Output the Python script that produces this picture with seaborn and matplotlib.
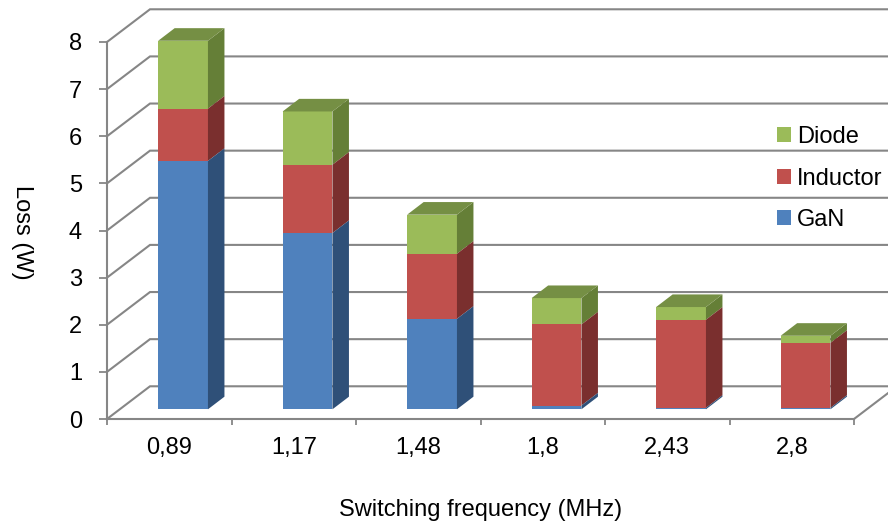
# -*- coding: utf-8 -*-

import pandas as pd
import matplotlib
matplotlib.use("Agg")
import matplotlib.pyplot as plt
import seaborn as sns

freqs = ['0,89', '1,17', '1,48', '1,8', '2,43', '2,8']
gan = [5.27, 3.74, 1.92, 0.08, 0.03, 0.03]
inductor = [1.11, 1.45, 1.38, 1.72, 1.87, 1.38]
diode = [1.44, 1.13, 0.83, 0.56, 0.27, 0.15]

sns.set_theme(style="white")
plt.rcParams['font.family'] = ['Liberation Sans', 'DejaVu Sans']

W, H = 888, 523
fig = plt.figure(figsize=(W / 100, H / 100), dpi=100)
ax = fig.add_axes([107 / W, 1 - 419 / H, 747 / W, 377 / H])

df = pd.DataFrame({'freq': freqs, 'GaN': gan, 'Inductor': inductor, 'Diode': diode})
df['c_gan'] = df['GaN']
df['c_ind'] = df['c_gan'] + df['Inductor']
df['c_dio'] = df['c_ind'] + df['Diode']

grey = '#868686'
fs = 17

# fake 3d: offsets in data units (1 category = 124.5px, 1 unit = 47.1px)
wall_dx, wall_dy = 43 / 124.5, 32.7 / 47.1
bar_dx, bar_dy = 13.8 / 124.5, 9.7 / 47.1
depth_dx, depth_dy = 16.5 / 124.5, 12.6 / 47.1

# draw tallest stack first so the lower segments sit on top
layers = [('Diode', 'c_dio', '#9BBB59', '#657F37'),
          ('Inductor', 'c_ind', '#C0504D', '#7A2F2E'),
          ('GaN', 'c_gan', '#4F81BD', '#2F5078')]
for name, col, face, side in layers:
    n_before = len(ax.patches)
    sns.barplot(data=df, x='freq', y=col, color=face, saturation=1, width=0.4,
                label=name, ax=ax, zorder=3, linewidth=0, clip_on=False)
    bars = ax.patches[n_before:]
    lows = {'Diode': df['c_ind'], 'Inductor': df['c_gan'], 'GaN': 0 * df['c_gan']}[name]
    for bar, low in zip(bars, lows):
        bar.set_x(bar.get_x() + bar_dx)
        bar.set_y(bar.get_y() + bar_dy)
        x1 = bar.get_x() + bar.get_width()
        y0, y1 = low + bar_dy, bar.get_y() + bar.get_height()
        ax.fill([x1, x1 + depth_dx, x1 + depth_dx, x1],
                [y0, y0 + depth_dy, y1 + depth_dy, y1],
                color=side, lw=0, zorder=3, clip_on=False)

# top of the stacks
for bar in ax.patches[:len(freqs)]:
    x0, x1 = bar.get_x(), bar.get_x() + bar.get_width()
    y1 = bar.get_y() + bar.get_height()
    ax.fill([x0, x1, x1 + depth_dx, x0 + depth_dx],
            [y1, y1, y1 + depth_dy, y1 + depth_dy],
            color='#758F44', lw=0, zorder=3, clip_on=False)

ax.set_xlim(-0.5, 5.5)
ax.set_ylim(0, 8)

# walls
for v in range(9):
    ax.plot([-0.5, -0.5 + wall_dx, 5.5 + wall_dx], [v, v + wall_dy, v + wall_dy],
            color=grey, lw=1.5, zorder=1, clip_on=False, solid_joinstyle='miter')
ax.plot([5.5, 5.5 + wall_dx], [0, wall_dy], color=grey, lw=1.5, zorder=1, clip_on=False)

sns.despine(ax=ax)
for s in ['left', 'bottom']:
    ax.spines[s].set_color(grey)
    ax.spines[s].set_linewidth(1.5)

ax.set_yticks(range(9))
ax.tick_params(axis='y', length=6, width=1.3, color=grey, pad=12, labelsize=fs,
               labelcolor='black', left=True)
ax.set_xticks([i - 0.5 for i in range(7)])
ax.set_xticklabels([])
ax.set_xticks(range(6), labels=freqs, minor=True)
ax.tick_params(axis='x', which='major', length=4, width=1.3, color=grey, bottom=True)
ax.tick_params(axis='x', which='minor', length=0, pad=13, labelsize=fs, labelcolor='black')

ax.set_xlabel('Switching frequency (MHz)', fontsize=fs, color='black')
ax.xaxis.set_label_coords(0.5, -(510 - 419) / 377, transform=ax.transAxes)
ax.xaxis.label.set_verticalalignment('center')
ax.set_ylabel('Loss (W)', fontsize=fs, color='black', rotation=270)
ax.yaxis.label.set_verticalalignment('center')
ax.yaxis.set_label_coords((22 - 107) / 747, (419 - 232) / 377, transform=ax.transAxes)

ax.legend(loc='upper left', bbox_to_anchor=(777 / W, 1 - 126 / H), bbox_transform=fig.transFigure,
          frameon=False, fontsize=fs, labelcolor='black', handlelength=0.6, handleheight=0.6,
          handletextpad=0.26, labelspacing=0.83, borderpad=0, borderaxespad=0)

fig.savefig('out.png', dpi=100)
